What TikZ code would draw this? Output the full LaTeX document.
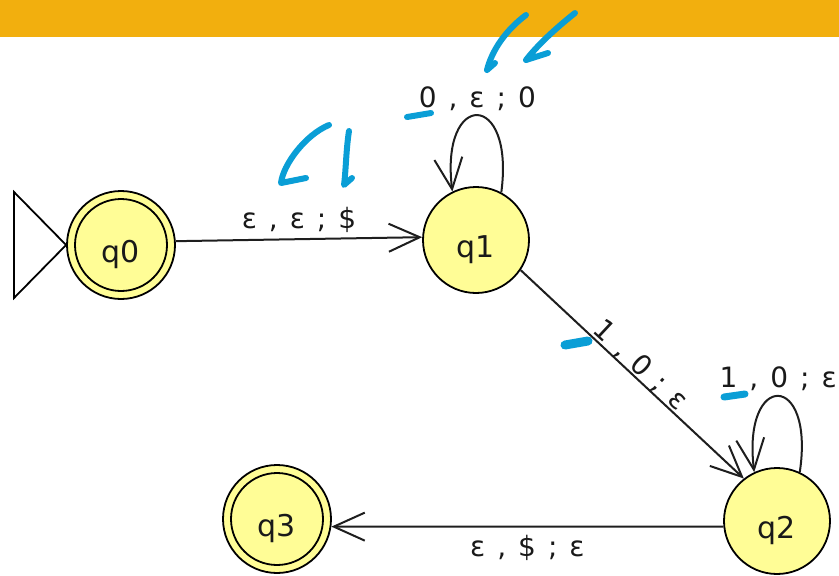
\documentclass[tikz,border=0pt]{standalone}
\usepackage{fontspec}
\newfontfamily\lblfont{DejaVu Sans}
\newfontfamily\stfont{DejaVu Sans}
\usetikzlibrary{arrows.meta}
\definecolor{bandorange}{RGB}{242,175,14}
\definecolor{statefill}{RGB}{255,253,150}
\definecolor{inkblue}{RGB}{10,158,214}
\definecolor{txt}{RGB}{25,25,25}
\definecolor{edgecol}{RGB}{30,30,30}
\newcommand{\gapp}{\hspace{12pt}}
\begin{document}
\begin{tikzpicture}[x=1pt,y=-1pt,
  state/.style={circle,draw=black,line width=1.8pt,fill=statefill,minimum size=106pt,inner sep=0pt,
    font=\stfont\fontsize{30}{30}\selectfont,text=txt,text height=34pt,text depth=0pt},
  accepting/.style={minimum size=108pt},
  trans/.style={draw=edgecol,line width=2pt,-{Straight Barb[length=31pt,width=28pt]}},
  lbl/.style={font=\lblfont\fontsize{28}{28}\selectfont,text=txt,inner sep=2pt},
  ink/.style={draw=inkblue,line width=6pt,line cap=round,line join=round}
]
\useasboundingbox (0,0) rectangle (839,576);
\fill[bandorange] (0,0) rectangle (839,37);

\node[state,accepting] (q0) at (121,245) {q0};
\node[state] (q1) at (476,240) {q1};
\node[state] (q2) at (777,521) {q2};
\node[state,accepting] (q3) at (277,519) {q3};
\draw[line width=1.8pt] (q0.center) circle (46pt);
\draw[line width=1.8pt] (q3.center) circle (46pt);

\coordinate (st1) at (14,192);
\coordinate (st2) at (14,298);
\draw[line width=1.8pt,line join=miter,fill=white] (q0.west) -- (st1) -- (st2) -- cycle;

\draw[trans] (q0.4) -- node[lbl,above=4pt] (l01) {ε\gapp,\gapp ε\gapp;\gapp\$} (q1.177);
\draw[trans] (q1.-34) -- node[lbl,above=-3pt,sloped,pos=0.5] (l12) {1\gapp,\gapp 0\gapp;\gapp ε} (q2.128);
\draw[trans] (q2.186.5) -- node[lbl,below=6pt] (l23) {ε\gapp,\gapp\$\gapp;\gapp ε} (q3.-8.5);
\draw[trans] (q1.62) .. controls (515,90) and (440,90) .. (q1.116) node[lbl,above=2pt,pos=0.5] (l11) {0\gapp,\gapp ε\gapp;\gapp 0};
\draw[trans] (q2.65) .. controls (815,371) and (742,371) .. (q2.115) node[lbl,above=3pt,pos=0.5] (l22) {1\gapp,\gapp 0\gapp;\gapp ε};

% hand-drawn annotations
\draw[ink] (526,15) .. controls (506,30) and (492,50) .. (487,70) -- (495,63);
\draw[ink] (575,13) .. controls (560,25) and (540,42) .. (526,60) -- (548,53);
\draw[ink] (407,117) -- (431,113);
\draw[ink] (329,125) .. controls (305,135) and (283,165) .. (281,183) -- (306,178);
\draw[ink] (349,131) .. controls (346,150) and (346,170) .. (344,185) -- (352,178);
\draw[ink,line width=9pt] (565,345) -- (588,341);
\draw[ink,line width=7pt] (724,397) -- (745,394);
\end{tikzpicture}
\end{document}
